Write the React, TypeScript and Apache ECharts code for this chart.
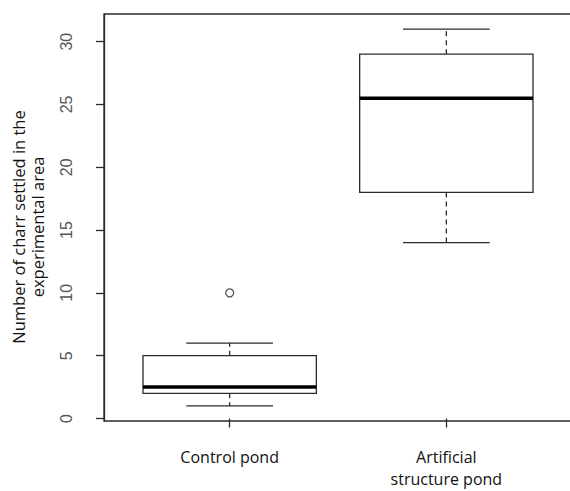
import React, { useEffect, useRef } from "react";
import * as echarts from "echarts";

const categories = ["Control pond", "Artificial\nstructure pond"];
const categoryPositions = [1, 2];
const whiskerLow = [1, 14];
const q1 = [2, 18];
const median = [2.5, 25.5];
const q3 = [5, 29];
const whiskerHigh = [6, 31];
const outlierCategory = [0];
const outlierValue = [10];
const yTicks = [0, 5, 10, 15, 20, 25, 30];
const yTitle = "Number of charr settled in the\nexperimental area";

const INK = "#2b2b2b";

export default function App() {
  const ref = useRef<HTMLDivElement>(null);
  useEffect(() => {
    if (!ref.current) return;
    document.body.style.margin = "0";
    const chart = echarts.init(ref.current, undefined, { renderer: "svg" });
    const boxData = categories.map((_, i) => [
      categoryPositions[i],
      whiskerLow[i],
      q1[i],
      median[i],
      q3[i],
      whiskerHigh[i],
    ]);
    const outlierData = outlierCategory.map((c, i) => [categoryPositions[c], outlierValue[i]]);
    chart.setOption({
      animation: false,
      backgroundColor: "#ffffff",
      grid: {
        left: 104,
        top: 14,
        right: -2,
        bottom: 70,
        show: true,
        borderColor: INK,
        borderWidth: 1.3,
        backgroundColor: "transparent",
        containLabel: false,
        outerBoundsMode: "none",
      },
      xAxis: {
        type: "value",
        min: 0.42,
        max: 2.58,
        splitLine: { show: false },
        axisLine: { show: false },
        axisTick: {
          show: true,
          length: 9,
          lineStyle: { color: INK, width: 1.3 },
          customValues: categoryPositions,
        },
        axisLabel: {
          show: true,
          customValues: categoryPositions,
          margin: 25,
          formatter: (v: number) => {
            const i = categoryPositions.indexOf(Math.round(v));
            return i >= 0 ? categories[i] : "";
          },
          fontFamily: "Open Sans",
          fontSize: 16,
          lineHeight: 22,
          color: "#111",
          verticalAlign: "top",
        },
      },
      yAxis: {
        type: "value",
        min: -0.2,
        max: 32.2,
        splitLine: { show: false },
        axisLine: { show: true, lineStyle: { color: INK, width: 1.3 } },
        axisTick: {
          show: true,
          length: 8,
          lineStyle: { color: INK, width: 1.3 },
          customValues: yTicks,
        },
        axisLabel: {
          show: true,
          customValues: yTicks,
          rotate: 90,
          margin: 30,
          fontFamily: "Liberation Sans",
          fontSize: 16,
          color: "#555",
        },
      },
      graphic: [
        {
          type: "text",
          x: 28,
          y: 227,
          rotation: Math.PI / 2,
          style: {
            text: yTitle,
            fontFamily: "Open Sans",
            fontSize: 16.5,
            lineHeight: 19,
            fill: "#111",
            textAlign: "center",
            textVerticalAlign: "middle",
          },
        },
      ],
      series: [
        {
          type: "custom",
          data: boxData,
          renderItem: (params: any, api: any) => {
            const x = api.value(0);
            const lo = api.coord([x, api.value(1)]);
            const b1 = api.coord([x, api.value(2)]);
            const md = api.coord([x, api.value(3)]);
            const b3 = api.coord([x, api.value(4)]);
            const hi = api.coord([x, api.value(5)]);
            const boxW = api.size([0.8, 0])[0];
            const capW = api.size([0.4, 0])[0];
            const cx = lo[0];
            const line = { stroke: INK, lineWidth: 1.3 };
            return {
              type: "group",
              children: [
                {
                  type: "line",
                  shape: { x1: cx, y1: b1[1], x2: cx, y2: lo[1] },
                  style: { ...line, lineDash: [5, 4] },
                },
                {
                  type: "line",
                  shape: { x1: cx, y1: b3[1], x2: cx, y2: hi[1] },
                  style: { ...line, lineDash: [5, 4] },
                },
                {
                  type: "line",
                  shape: { x1: cx - capW / 2, y1: lo[1], x2: cx + capW / 2, y2: lo[1] },
                  style: line,
                },
                {
                  type: "line",
                  shape: { x1: cx - capW / 2, y1: hi[1], x2: cx + capW / 2, y2: hi[1] },
                  style: line,
                },
                {
                  type: "rect",
                  shape: { x: cx - boxW / 2, y: b3[1], width: boxW, height: b1[1] - b3[1] },
                  style: { fill: "#ffffff", stroke: INK, lineWidth: 1.3 },
                },
                {
                  type: "line",
                  shape: { x1: cx - boxW / 2, y1: md[1], x2: cx + boxW / 2, y2: md[1] },
                  style: { stroke: "#000", lineWidth: 3.5 },
                },
              ],
            };
          },
        },
        {
          type: "scatter",
          data: outlierData,
          symbol: "circle",
          symbolSize: 8,
          itemStyle: { color: "#ffffff", borderColor: INK, borderWidth: 1.3 },
        },
      ],
    });
    return () => chart.dispose();
  }, []);
  return (
    <div
      ref={ref}
      style={{ position: "absolute", left: 0, top: 0, width: 570, height: 491 }}
    />
  );
}
